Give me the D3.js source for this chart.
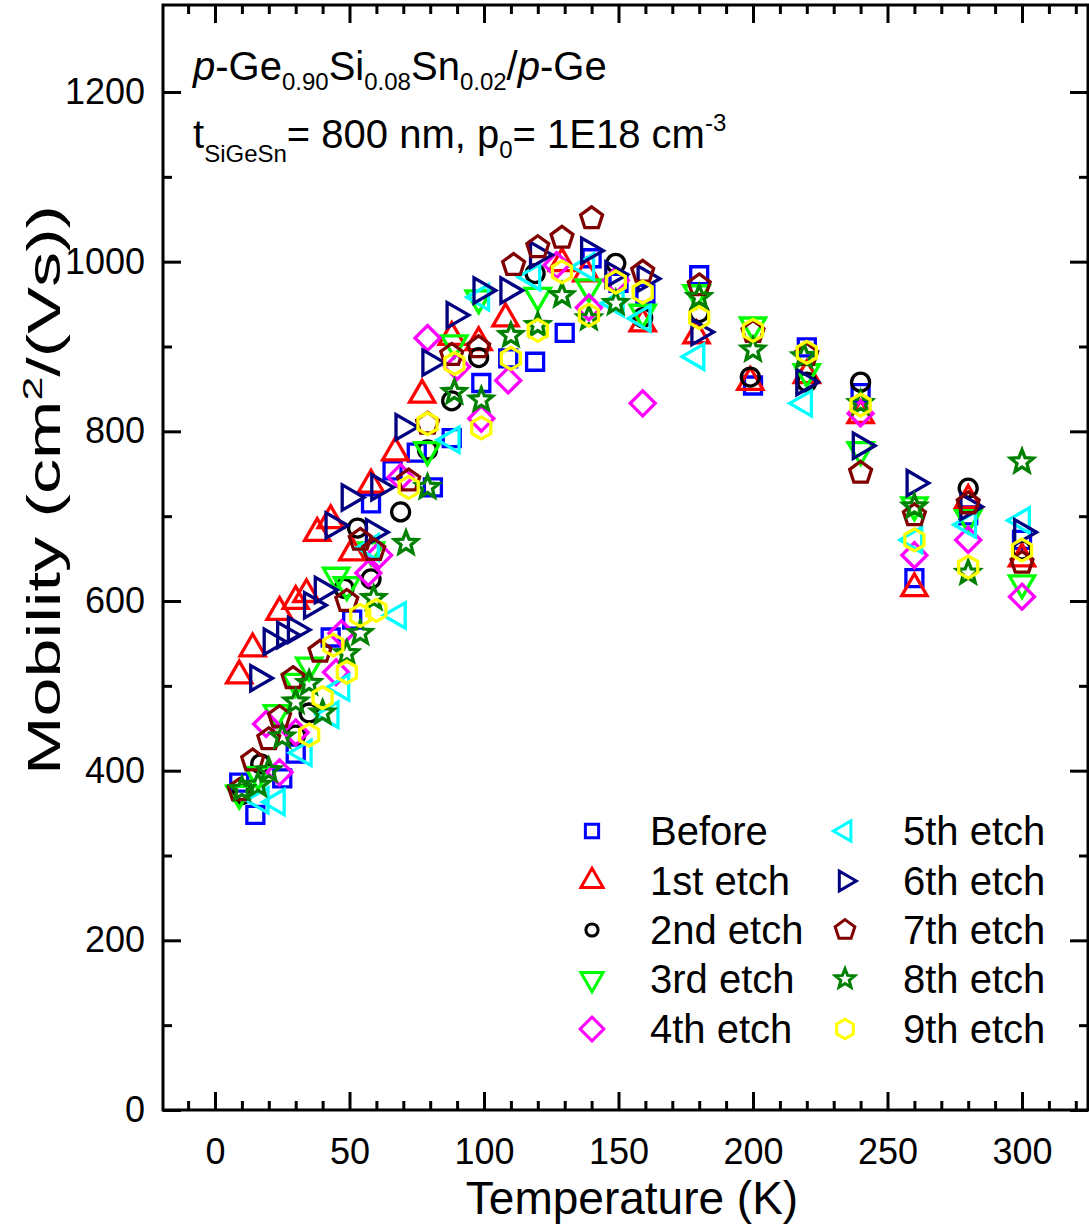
<!DOCTYPE html>
<html><head><meta charset="utf-8">
<script src="https://cdn.jsdelivr.net/npm/d3@7"></script>
<style>
html,body{margin:0;padding:0;background:#fff;}
svg{display:block;font-family:"Liberation Sans",Arial,Helvetica,sans-serif;}
</style></head>
<body>
<svg id="chart" width="1089" height="1228"></svg>
<script>
// ---------------- data ----------------
const seriesNames = ["Before","1st etch","2nd etch","3rd etch","4th etch","5th etch","6th etch","7th etch","8th etch","9th etch"];
const seriesColors = ["#0000FF","#FF0000","#000000","#00FF00","#FF00FF","#00FFFF","#000080","#800000","#008000","#FFFF00"];
const seriesShapes = ["square","triUp","circle","triDown","diamond","triLeft","triRight","pentagon","star","hexagon"];

const tBefore = [9,15,25,30,43,51,58,66,75,81,88,99,109,119,130,140,150,160,180,200,220,240,260,280,300];
const muBefore = [386,348,391,420,557,578,715,754,775,734,792,857,886,882,916,1004,975,962,984,854,899,845,627,701,672];

const tEtch1 = [9,14,24,30,34,38,43,51,58,67,77,88,98,108,129,138,159,179,199,220,240,260,280,300];
const muEtch1 = [512,544,587,600,608,680,695,657,737,775,843,911,905,933,998,986,927,913,858,866,819,615,719,650];

const tEtch2 = [10,17,30,35,48,53,58,69,79,88,98,119,149,159,180,199,220,240,280,300];
const muEtch2 = [372,408,442,468,615,686,626,705,778,836,887,986,998,934,940,864,858,858,733,660];

const tEtch3 = [9,16,23,30,35,45,49,58,79,89,98,120,139,159,179,200,220,240,260,280,300];
const muEtch3 = [373,395,468,505,524,630,619,660,778,904,957,960,970,940,963,925,870,778,713,698,621];

const tEtch4 = [19,24,30,45,47,57,61,69,79,90,99,109,127,139,149,159,240,260,280,300];
const muEtch4 = [455,398,445,516,562,633,654,746,910,876,815,860,996,946,978,833,821,654,672,605];

const tEtch5 = [17,23,33,43,47,58,68,88,99,118,138,149,159,179,219,260,280,300];
const muEtch5 = [365,363,421,466,498,663,583,790,958,982,994,951,933,888,833,672,690,695];

const tEtch6 = [16,21,26,30,36,40,44,50,59,61,70,80,89,99,109,120,139,148,160,180,219,240,260,280,300];
const muEtch6 = [509,552,560,566,595,613,689,722,681,734,805,881,937,966,966,1008,1013,985,980,917,858,783,739,711,681];

const tEtch7 = [9,14,20,24,29,39,49,54,59,72,79,88,98,111,120,129,140,159,180,200,220,240,260,280,300];
const muEtch7 = [377,412,437,463,509,540,600,672,660,742,809,890,899,996,1017,1028,1051,988,972,917,890,751,701,715,645];

const tEtch8 = [10,16,20,25,30,35,40,49,54,59,71,79,89,99,110,120,129,139,149,180,200,219,240,260,280,300];
const muEtch8 = [378,383,400,440,481,503,468,538,562,603,668,734,846,837,913,925,960,933,951,958,896,888,833,711,633,764];

const tEtch9 = [35,40,44,49,54,60,72,79,89,99,110,120,129,139,149,159,180,200,220,240,260,280,300];
const muEtch9 = [442,486,548,516,583,589,734,809,880,804,886,919,988,937,976,964,934,919,893,831,672,640,660];

const seriesT = [tBefore,tEtch1,tEtch2,tEtch3,tEtch4,tEtch5,tEtch6,tEtch7,tEtch8,tEtch9];
const seriesMu = [muBefore,muEtch1,muEtch2,muEtch3,muEtch4,muEtch5,muEtch6,muEtch7,muEtch8,muEtch9];

const xMajorTicks = [0,50,100,150,200,250,300];
const xMinorTicks = [-10,10,20,30,40,60,70,80,90,110,120,130,140,160,170,180,190,210,220,230,240,260,270,280,290,310,320];
const yMajorTicks = [0,200,400,600,800,1000,1200];
const yMinorTicks = [100,300,500,700,900,1100];

// ---------------- layout ----------------
const svg = d3.select("#chart");
const L = 163, R = 1088, T = 5, B = 1110;
const x = d3.scaleLinear().domain([0,300]).range([215,1022]);
const y = d3.scaleLinear().domain([0,1200]).range([1110,92]);

// shapes
function shapePath(type, k){
  const pts = (arr)=> "M" + arr.map(p=>[p[0]*k,p[1]*k].map(v=>v.toFixed(2)).join(",")).join("L") + "Z";
  const poly = (n, r, rot)=> d3.range(n).map(i=>{const a = rot + i*2*Math.PI/n; return [r*Math.cos(a), r*Math.sin(a)];});
  switch(type){
    case "square": return pts([[-8.5,-8.5],[8.5,-8.5],[8.5,8.5],[-8.5,8.5]]);
    case "triUp": return pts([[0,-14.5],[12.6,7.3],[-12.6,7.3]]);
    case "triDown": return pts([[0,14.5],[12.6,-7.3],[-12.6,-7.3]]);
    case "triLeft": return pts([[-14.5,0],[7.3,-12.6],[7.3,12.6]]);
    case "triRight": return pts([[14.5,0],[-7.3,-12.6],[-7.3,12.6]]);
    case "diamond": return pts([[0,-12.5],[12.5,0],[0,12.5],[-12.5,0]]);
    case "circle": { const r = 9*k; return `M${r},0A${r},${r} 0 1,1 ${-r},0A${r},${r} 0 1,1 ${r},0Z`; }
    case "pentagon": return pts(poly(5, 11.5, -Math.PI/2));
    case "hexagon": return pts(poly(6, 11, -Math.PI/2));
    case "star": {
      const a = [];
      for(let i=0;i<10;i++){ const r = i%2===0 ? 12 : 5.2; const ang = -Math.PI/2 + i*Math.PI/5; a.push([r*Math.cos(ang), r*Math.sin(ang)]); }
      return pts(a);
    }
  }
}

// axes
const tickStyle = g => { g.select(".domain").remove(); g.selectAll(".tick line").attr("stroke","#000").attr("stroke-width",3); };

svg.append("g").attr("transform",`translate(0,${B})`)
  .call(d3.axisBottom(x).tickValues(xMajorTicks).tickSize(-18).tickPadding(28).tickFormat(d3.format("d")))
  .call(tickStyle)
  .call(g=>g.selectAll("text").attr("font-size",36).attr("fill","#000").attr("font-family","Liberation Sans, Arial, sans-serif"));
svg.append("g").attr("transform",`translate(0,${B})`)
  .call(d3.axisBottom(x).tickValues(xMinorTicks).tickSize(-9).tickFormat(""))
  .call(tickStyle);
svg.append("g").attr("transform",`translate(0,${T})`)
  .call(d3.axisTop(x).tickValues(xMajorTicks).tickSize(-18).tickFormat(""))
  .call(tickStyle);
svg.append("g").attr("transform",`translate(0,${T})`)
  .call(d3.axisTop(x).tickValues(xMinorTicks).tickSize(-9).tickFormat(""))
  .call(tickStyle);

svg.append("g").attr("transform",`translate(${L},0)`)
  .call(d3.axisLeft(y).tickValues(yMajorTicks).tickSize(-18).tickPadding(18).tickFormat(d3.format("d")))
  .call(tickStyle)
  .call(g=>g.selectAll("text").attr("font-size",36).attr("fill","#000").attr("font-family","Liberation Sans, Arial, sans-serif"));
svg.append("g").attr("transform",`translate(${L},0)`)
  .call(d3.axisLeft(y).tickValues(yMinorTicks).tickSize(-9).tickFormat(""))
  .call(tickStyle);
svg.append("g").attr("transform",`translate(${R},0)`)
  .call(d3.axisRight(y).tickValues(yMajorTicks).tickSize(-18).tickFormat(""))
  .call(tickStyle);
svg.append("g").attr("transform",`translate(${R},0)`)
  .call(d3.axisRight(y).tickValues(yMinorTicks).tickSize(-9).tickFormat(""))
  .call(tickStyle);

// frame
svg.append("rect").attr("x",L).attr("y",T).attr("width",R-L).attr("height",B-T)
  .attr("fill","none").attr("stroke","#000").attr("stroke-width",3);

// data points
seriesNames.forEach((name,i)=>{
  const data = seriesT[i].map((t,j)=>({t, mu: seriesMu[i][j]}));
  svg.append("g").attr("class","series")
    .selectAll("path").data(data).enter().append("path")
    .attr("d", shapePath(seriesShapes[i], 1))
    .attr("transform", d=>`translate(${x(d.t)},${y(d.mu)})`)
    .attr("fill","none").attr("stroke",seriesColors[i]).attr("stroke-width",3.3)
    .attr("stroke-linejoin","miter");
});

// axis titles
svg.append("text").attr("x",632).attr("y",1214).attr("text-anchor","middle")
  .attr("font-size",46).text("Temperature (K)");
const yl = svg.append("text").attr("transform","translate(60,490) rotate(-90)")
  .attr("text-anchor","middle").attr("font-size",46)
  .attr("textLength",570).attr("lengthAdjust","spacingAndGlyphs");
yl.append("tspan").text("Mobility (cm");
yl.append("tspan").attr("font-size",28).attr("dy",-18).text("2");
yl.append("tspan").attr("dy",18).text("/(Vs))");

// annotation
const t1 = svg.append("text").attr("x",193).attr("y",80).attr("font-size",40);
t1.append("tspan").attr("font-style","italic").text("p");
t1.append("tspan").text("-Ge");
t1.append("tspan").attr("font-size",24).attr("dy",10).text("0.90");
t1.append("tspan").attr("dy",-10).text("Si");
t1.append("tspan").attr("font-size",24).attr("dy",10).text("0.08");
t1.append("tspan").attr("dy",-10).text("Sn");
t1.append("tspan").attr("font-size",24).attr("dy",10).text("0.02");
t1.append("tspan").attr("dy",-10).text("/");
t1.append("tspan").attr("font-style","italic").text("p");
t1.append("tspan").text("-Ge");

const t2 = svg.append("text").attr("x",193).attr("y",148).attr("font-size",40);
t2.append("tspan").text("t");
t2.append("tspan").attr("font-size",24).attr("dy",14).text("SiGeSn");
t2.append("tspan").attr("dy",-14).text("= 800 nm, p");
t2.append("tspan").attr("font-size",24).attr("dy",10).text("0");
t2.append("tspan").attr("dy",-10).text("= 1E18 cm");
t2.append("tspan").attr("font-size",24).attr("dy",-17).text("-3");

// legend
const legendRowsY = [831,881,930,979,1029];
const legendSymX = [592,845];
const legendTextX = [650,903];
const legendScale = {square:0.78,triUp:0.88,circle:0.68,triDown:0.88,diamond:0.95,triLeft:0.8,triRight:0.78,pentagon:0.9,star:0.85,hexagon:0.88};
seriesNames.forEach((name,i)=>{
  const col = Math.floor(i/5), row = i%5;
  const cy = legendRowsY[row];
  svg.append("path").attr("d", shapePath(seriesShapes[i], legendScale[seriesShapes[i]]))
    .attr("transform",`translate(${legendSymX[col]},${cy})`)
    .attr("fill","none").attr("stroke",seriesColors[i]).attr("stroke-width",3);
  svg.append("text").attr("x",legendTextX[col]).attr("y",cy+14).attr("font-size",40).text(name);
});
</script>
</body></html>
